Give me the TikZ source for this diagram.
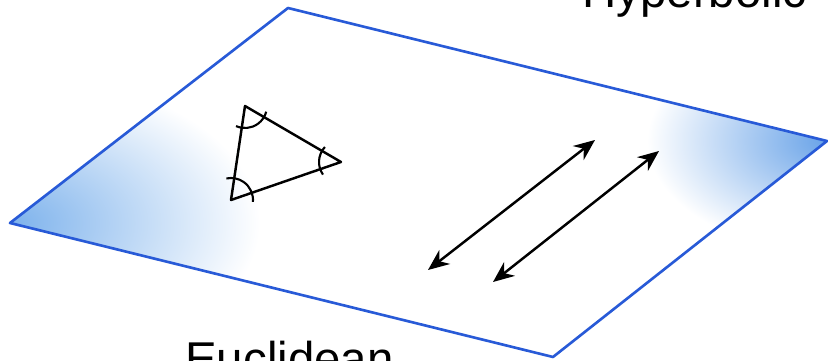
\documentclass[tikz,border=0pt]{standalone}
\usepackage{fontspec}
\setmainfont{Liberation Sans}
\usepackage{xcolor}
\usepackage{tikz}
\usetikzlibrary{arrows.meta}

\definecolor{planeedge}{RGB}{40,90,215}
\definecolor{planeblue}{RGB}{125,178,236}
\definecolor{planebluer}{RGB}{105,163,232}

\tikzset{
  planeline/.style={draw=planeedge, line width=1.5pt, line join=round},
  angmark/.style={line width=1.2pt},
  parline/.style={{Stealth[length=12pt,width=10pt]}-{Stealth[length=12pt,width=10pt]}, line width=1.4pt},
  geolabel/.style={inner sep=0pt, font=\fontsize{27}{30}\selectfont}
}

\begin{document}
\begin{tikzpicture}[x=0.02cm,y=0.02cm]
\useasboundingbox (0,0) rectangle (828,361);
\coordinate (plleft) at (10,138);
\coordinate (plbot) at (553,4);
\coordinate (plright) at (827,220);
\coordinate (pltop) at (288,353);
\begin{scope}
\clip (plleft) -- (plbot) -- (plright) -- (pltop) -- cycle;
\shade[inner color=planeblue, outer color=white] (plleft) ellipse[x radius=250, y radius=150];
\shade[inner color=planebluer, outer color=white] (plright) ellipse[x radius=180, y radius=110];
\end{scope}
\draw[planeline] (plleft) -- (plbot) -- (plright) -- (pltop) -- cycle;

\coordinate (tria) at (245,255);
\coordinate (tric) at (341,199);
\coordinate (trid) at (231,161);
\draw[line width=1.4pt, line join=round] (tria) -- (tric) -- (trid) -- cycle;
\draw[angmark] (tria) ++(246:22) arc[start angle=246, end angle=345, radius=22];
\draw[angmark] (tric) ++(137:22) arc[start angle=137, end angle=215, radius=22];
\draw[angmark] (trid) ++(-5:22) arc[start angle=-5, end angle=102, radius=22];

\coordinate (lineAa) at (428,91);
\coordinate (lineAb) at (595,221);
\coordinate (lineBa) at (493,79);
\coordinate (lineBb) at (659,210);
\draw[parline] (lineAa) -- (lineAb);
\draw[parline] (lineBa) -- (lineBb);

\node[geolabel, anchor=base west] (hyp) at (582,353) {Hyperbolic};
\node[geolabel, anchor=base west] (euc) at (185,-15) {Euclidean};
\end{tikzpicture}
\end{document}
